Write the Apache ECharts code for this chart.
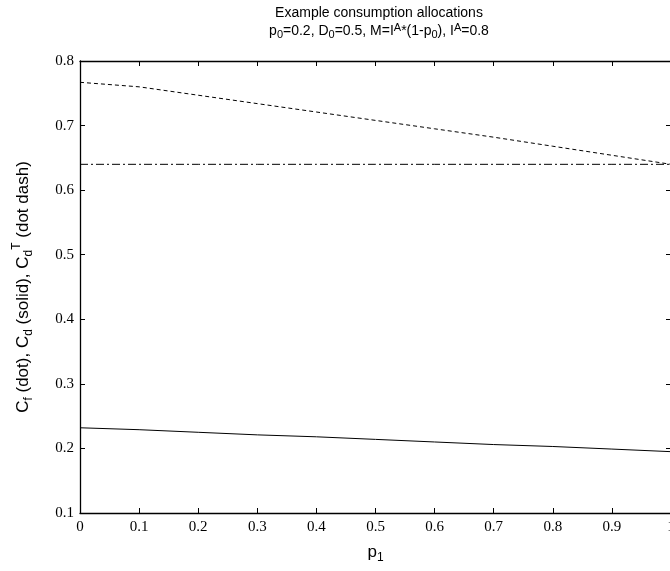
<!DOCTYPE html>
<html><head><meta charset="utf-8">
<script src="https://cdn.jsdelivr.net/npm/echarts@6/dist/echarts.min.js"></script>
<style>html,body{margin:0;padding:0;background:#fff}#c{width:670px;height:571px}</style>
</head><body><div id="c"></div>
<script>
const p1 = [0, 0.1, 0.2, 0.3, 0.4, 0.5, 0.6, 0.7, 0.8, 0.9, 1.0];
const cfDot = [0.767, 0.760, 0.747, 0.734, 0.721, 0.708, 0.695, 0.682, 0.668, 0.654, 0.640];
const cdSolid = [0.232, 0.229, 0.225, 0.221, 0.218, 0.214, 0.210, 0.206, 0.203, 0.199, 0.195];
const cdtDotDash = [0.640, 0.640, 0.640, 0.640, 0.640, 0.640, 0.640, 0.640, 0.640, 0.640, 0.640];
const xTicks = ['0','0.1','0.2','0.3','0.4','0.5','0.6','0.7','0.8','0.9','1'];
const yTicks = ['0.1','0.2','0.3','0.4','0.5','0.6','0.7','0.8'];

const pair = ys => p1.map((x, i) => [x, ys[i]]);
const chart = echarts.init(document.getElementById('c'));
const serif = "'Liberation Serif', 'Times New Roman', serif";
const sans = "'Liberation Sans', Arial, sans-serif";
const axisCommon = {
  axisLine: {show: true, onZero: false, lineStyle: {color: '#000', width: 1.3}},
  axisTick: {show: true, inside: true, length: 5, lineStyle: {color: '#000', width: 1}},
  splitLine: {show: false}
};
const rich = {
  n: {fontFamily: sans, fontSize: 17, color: '#000', lineHeight: 24, verticalAlign: 'middle'},
  sub: {fontFamily: sans, fontSize: 12, color: '#000', lineHeight: 12, verticalAlign: 'bottom'},
  sup: {fontFamily: sans, fontSize: 12, color: '#000', lineHeight: 12, verticalAlign: 'top'}
};
chart.setOption({
  animation: false,
  title: {
    text: '{n|Example consumption allocations}\n{n|p}{sub|0}{n|=0.2, D}{sub|0}{n|=0.5, M=I}{sup|A}{n|*(1-p}{sub|0}{n|), I}{sup|A}{n|=0.8}',
    left: 374, top: -1, textAlign: 'center',
    textStyle: {fontWeight: 'normal', rich: {
      n: {fontFamily: sans, fontSize: 14, fontWeight: 'normal', color: '#000', lineHeight: 18, verticalAlign: 'middle'},
      sub: {fontFamily: sans, fontSize: 11, fontWeight: 'normal', color: '#000', lineHeight: 9, verticalAlign: 'bottom'},
      sup: {fontFamily: sans, fontSize: 11, fontWeight: 'normal', color: '#000', lineHeight: 9, verticalAlign: 'top'}
    }}
  },
  grid: {left: 80, right: -1, top: 61, bottom: 58, containLabel: false, outerBoundsMode: 'none'},
  xAxis: [
    Object.assign({}, axisCommon, {
      type: 'value', min: 0, max: 1, interval: 0.1, position: 'bottom',
      name: '{n|p}{sub|1}', nameLocation: 'middle', nameGap: 27,
      nameTextStyle: {rich: rich},
      axisLabel: {fontFamily: serif, fontSize: 15, color: '#000', margin: 7,
        formatter: (v) => xTicks[Math.round(v * 10)]}
    }),
    Object.assign({}, axisCommon, {
      type: 'value', min: 0, max: 1, interval: 0.1, position: 'top',
      axisLabel: {show: false}
    })
  ],
  yAxis: [
    Object.assign({}, axisCommon, {
      type: 'value', min: 0.1, max: 0.8, interval: 0.1, position: 'left',
      name: '{n|C}{sub|f}{n| (dot), C}{sub|d}{n| (solid), C}{sub|d}{sup|T}{n| (dot dash)}',
      nameLocation: 'middle', nameRotate: 90, nameGap: 45,
      nameTextStyle: {rich: rich},
      axisLabel: {fontFamily: serif, fontSize: 15, color: '#000', margin: 6,
        formatter: (v) => yTicks[Math.round(v * 10) - 1]}
    }),
    Object.assign({}, axisCommon, {
      type: 'value', min: 0.1, max: 0.8, interval: 0.1, position: 'right',
      axisLabel: {show: false}
    })
  ],
  series: [
    {type: 'line', data: pair(cfDot), symbol: 'none', lineStyle: {color: '#000', width: 1, type: [4, 3]}},
    {type: 'line', data: pair(cdSolid), symbol: 'none', lineStyle: {color: '#000', width: 1, type: 'solid'}},
    {type: 'line', data: pair(cdtDotDash), symbol: 'none', lineStyle: {color: '#000', width: 1, type: [8, 3, 2, 3]}}
  ]
});
</script></body></html>
